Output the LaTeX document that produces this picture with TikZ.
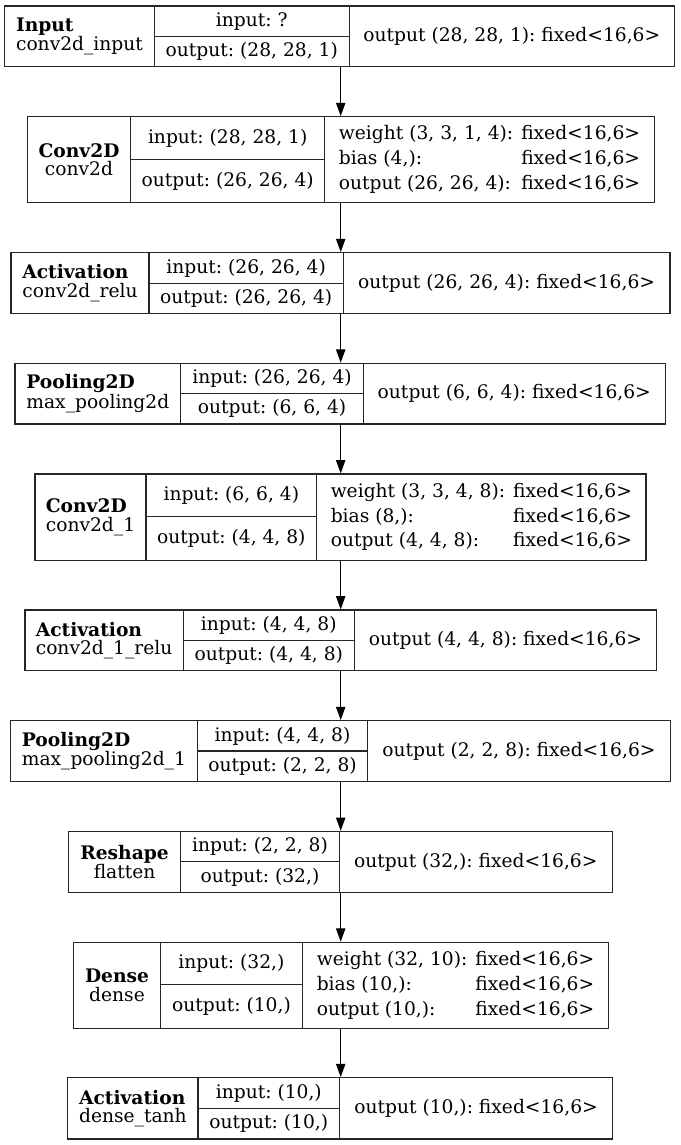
\documentclass[tikz,border=0pt]{standalone}
\usepackage{fontspec}
\setmainfont{DejaVu Serif}
\usetikzlibrary{fit,arrows.meta}
\frenchspacing
\colorlet{edgecol}{black!85}
\tikzset{
  layer/.style={draw=edgecol, line width=0.9pt, inner sep=0pt, rectangle},
  divider/.style={draw=edgecol, line width=0.9pt},
  cell/.style={inner sep=0pt, font=\fontsize{14}{13.7}\selectfont\frenchspacing},
  rcell/.style={inner sep=0pt, font=\fontsize{14}{18.5}\selectfont\frenchspacing},
  link/.style={-{Triangle[length=10pt,width=7pt]}, line width=0.9pt, draw=black, fill=black}
}
\newcommand\mygeom[8]{%
  \node[layer, fit={(#2,#4) (#3,#5)}] (#1) {};
  \draw[divider] (#6,#4) -- (#6,#5);
  \draw[divider] (#7,#4) -- (#7,#5);
  \draw[divider] (#6,#8) -- (#7,#8);
  \coordinate (#1-a) at ({(#2+#6)/2},{(#4+#5)/2});
  \coordinate (#1-i) at ({(#6+#7)/2},{(#4+#8)/2});
  \coordinate (#1-o) at ({(#6+#7)/2},{(#8+#5)/2});
  \coordinate (#1-p) at ({(#7+#3)/2},{(#4+#5)/2});
}
\newcommand\mytab[3]{\begin{tabular}{@{}l@{\hspace{6pt}}l@{}}#1 & fixed<16,6>\\ #2 & fixed<16,6>\\ #3 & fixed<16,6>\end{tabular}}
\begin{document}
\begin{tikzpicture}[x=0.75pt,y=-0.75pt]
\fill[white] (0,0) rectangle (681,1145);
\useasboundingbox (0,0) rectangle (681,1145);
\coordinate (ax) at (340.7,0);

% L1
\mygeom{L1}{4.7}{674.3}{6}{66.7}{154.3}{349.3}{36.5}
\node[cell, align=left] (L1ta) at (L1-a) {\textbf{Input}\\conv2d\_input};
\node[cell] (L1ti) at (L1-i) {input: ?};
\node[cell] (L1to) at (L1-o) {output: (28, 28, 1)};
\node[cell] (L1tp) at (L1-p) {output (28, 28, 1): fixed<16,6>};

% L2
\mygeom{L2}{27.3}{654.3}{116.7}{202.7}{130.7}{324.7}{159.3}
\node[cell, align=center] (L2ta) at (L2-a) {\textbf{Conv2D}\\conv2d};
\node[cell] (L2ti) at (L2-i) {input: (28, 28, 1)};
\node[cell] (L2to) at (L2-o) {output: (26, 26, 4)};
\node[rcell] (L2tp) at (L2-p) {\mytab{weight (3, 3, 1, 4):}{bias (4,):}{output (26, 26, 4):}};

% L3
\mygeom{L3}{11}{670}{252.7}{313.3}{149}{343.3}{283.3}
\node[cell, align=left] (L3ta) at (L3-a) {\textbf{Activation}\\conv2d\_relu};
\node[cell] (L3ti) at (L3-i) {input: (26, 26, 4)};
\node[cell] (L3to) at (L3-o) {output: (26, 26, 4)};
\node[cell] (L3tp) at (L3-p) {output (26, 26, 4): fixed<16,6>};

% L4
\mygeom{L4}{15}{665.3}{363.3}{424}{180.7}{363.3}{393.5}
\node[cell, align=left] (L4ta) at (L4-a) {\textbf{Pooling2D}\\max\_pooling2d};
\node[cell] (L4ti) at (L4-i) {input: (26, 26, 4)};
\node[cell] (L4to) at (L4-o) {output: (6, 6, 4)};
\node[cell] (L4tp) at (L4-p) {output (6, 6, 4): fixed<16,6>};

% L5
\mygeom{L5}{35}{646}{474}{560.3}{146}{316.7}{516.7}
\node[cell, align=left] (L5ta) at (L5-a) {\textbf{Conv2D}\\conv2d\_1};
\node[cell] (L5ti) at (L5-i) {input: (6, 6, 4)};
\node[cell] (L5to) at (L5-o) {output: (4, 4, 8)};
\node[rcell] (L5tp) at (L5-p) {\mytab{weight (3, 3, 4, 8):}{bias (8,):}{output (4, 4, 8):}};

% L6
\mygeom{L6}{24.9}{656.7}{610}{670.7}{183.3}{354.3}{640.7}
\node[cell, align=left] (L6ta) at (L6-a) {\textbf{Activation}\\conv2d\_1\_relu};
\node[cell] (L6ti) at (L6-i) {input: (4, 4, 8)};
\node[cell] (L6to) at (L6-o) {output: (4, 4, 8)};
\node[cell] (L6tp) at (L6-p) {output (4, 4, 8): fixed<16,6>};

% L7
\mygeom{L7}{10.5}{670.3}{720.7}{781.7}{197.3}{367.7}{751}
\node[cell, align=left] (L7ta) at (L7-a) {\textbf{Pooling2D}\\max\_pooling2d\_1};
\node[cell] (L7ti) at (L7-i) {input: (4, 4, 8)};
\node[cell] (L7to) at (L7-o) {output: (2, 2, 8)};
\node[cell] (L7tp) at (L7-p) {output (2, 2, 8): fixed<16,6>};

% L8
\mygeom{L8}{68.5}{612.2}{831.5}{892.3}{180.7}{339.3}{861.7}
\node[cell, align=center] (L8ta) at (L8-a) {\textbf{Reshape}\\flatten};
\node[cell] (L8ti) at (L8-i) {input: (2, 2, 8)};
\node[cell] (L8to) at (L8-o) {output: (32,)};
\node[cell] (L8tp) at (L8-p) {output (32,): fixed<16,6>};

% L9
\mygeom{L9}{73.7}{608.5}{942.3}{1028.5}{160.4}{302.5}{984.3}
\node[cell, align=center] (L9ta) at (L9-a) {\textbf{Dense}\\dense};
\node[cell] (L9ti) at (L9-i) {input: (32,)};
\node[cell] (L9to) at (L9-o) {output: (10,)};
\node[rcell] (L9tp) at (L9-p) {\mytab{weight (32, 10):}{bias (10,):}{output (10,):}};

% L10
\mygeom{L10}{67.8}{612.6}{1077.7}{1139}{198}{339.6}{1108.3}
\node[cell, align=left] (L10ta) at (L10-a) {\textbf{Activation}\\dense\_tanh};
\node[cell] (L10ti) at (L10-i) {input: (10,)};
\node[cell] (L10to) at (L10-o) {output: (10,)};
\node[cell] (L10tp) at (L10-p) {output (10,): fixed<16,6>};

% connectors
\foreach \a/\b in {L1/L2,L2/L3,L3/L4,L4/L5,L5/L6,L6/L7,L7/L8,L8/L9,L9/L10}
  \draw[link] (\a.south -| ax) -- (\b.north -| ax);
\end{tikzpicture}
\end{document}
